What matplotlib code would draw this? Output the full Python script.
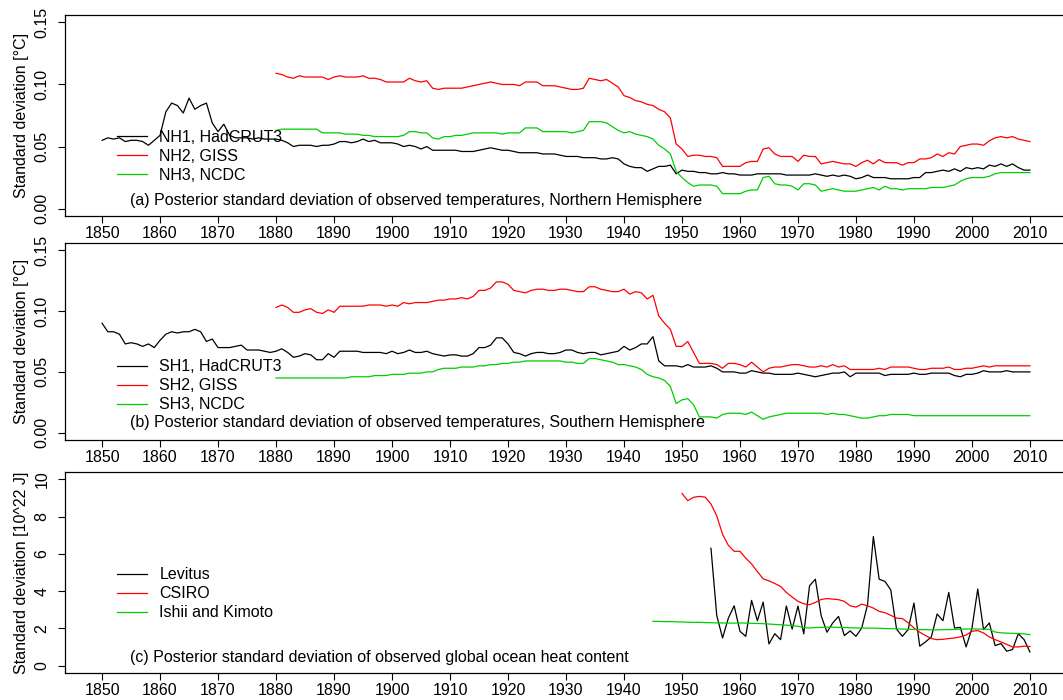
import matplotlib
matplotlib.use("Agg")
import matplotlib.pyplot as plt
import numpy as np

plt.rcParams['font.family'] = ['Liberation Sans', 'DejaVu Sans']
plt.rcParams['font.size'] = 11.5

# ---------------- data ----------------
# (a) northern hemisphere, posterior std of observed temperature
nh1_start, nh23_start = 1850, 1880
nh1_hadcrut3 = [
    0.055, 0.057, 0.056, 0.057, 0.054, 0.055, 0.055, 0.054, 0.051, 0.055,
    0.059, 0.078, 0.085, 0.083, 0.077, 0.089, 0.080, 0.083, 0.085, 0.069,
    0.062, 0.068, 0.059, 0.057, 0.057, 0.057, 0.056, 0.057, 0.056, 0.056,
    0.056, 0.055, 0.053, 0.050, 0.051, 0.051, 0.051, 0.050, 0.051, 0.051,
    0.052, 0.054, 0.054, 0.053, 0.054, 0.056, 0.054, 0.055, 0.053, 0.053,
    0.053, 0.052, 0.050, 0.051, 0.050, 0.048, 0.050, 0.047, 0.047, 0.047,
    0.047, 0.047, 0.046, 0.046, 0.046, 0.047, 0.048, 0.049, 0.048, 0.047,
    0.047, 0.046, 0.045, 0.045, 0.045, 0.045, 0.044, 0.044, 0.044, 0.043,
    0.042, 0.042, 0.042, 0.041, 0.041, 0.041, 0.040, 0.040, 0.041, 0.040,
    0.036, 0.034, 0.033, 0.033, 0.030, 0.032, 0.034, 0.034, 0.035, 0.028,
    0.031, 0.030, 0.030, 0.029, 0.029, 0.028, 0.028, 0.029, 0.028, 0.028,
    0.027, 0.027, 0.027, 0.028, 0.028, 0.028, 0.028, 0.028, 0.027, 0.027,
    0.027, 0.027, 0.027, 0.028, 0.027, 0.026, 0.027, 0.026, 0.027, 0.026,
    0.024, 0.025, 0.027, 0.025, 0.025, 0.025, 0.024, 0.024, 0.024, 0.024,
    0.025, 0.025, 0.029, 0.029, 0.030, 0.031, 0.030, 0.032, 0.030, 0.033,
    0.032, 0.033, 0.032, 0.035, 0.034, 0.036, 0.034, 0.036, 0.033, 0.031,
    0.031]
nh2_giss = [
    0.109, 0.108, 0.106, 0.105, 0.107, 0.106, 0.106, 0.106, 0.106, 0.104,
    0.106, 0.107, 0.106, 0.106, 0.106, 0.107, 0.105, 0.105, 0.104, 0.102,
    0.102, 0.102, 0.102, 0.105, 0.103, 0.102, 0.103, 0.097, 0.096, 0.097,
    0.097, 0.097, 0.097, 0.098, 0.099, 0.100, 0.101, 0.102, 0.101, 0.100,
    0.100, 0.100, 0.099, 0.102, 0.102, 0.102, 0.099, 0.099, 0.099, 0.098,
    0.097, 0.096, 0.096, 0.097, 0.105, 0.104, 0.103, 0.104, 0.101, 0.098,
    0.091, 0.0895, 0.087, 0.086, 0.084, 0.083, 0.080, 0.078, 0.073, 0.052,
    0.048, 0.042, 0.043, 0.043, 0.042, 0.042, 0.041, 0.034, 0.034, 0.034,
    0.034, 0.037, 0.038, 0.038, 0.048, 0.049, 0.044, 0.042, 0.042, 0.042,
    0.038, 0.043, 0.042, 0.042, 0.036, 0.037, 0.038, 0.037, 0.036, 0.036,
    0.034, 0.037, 0.039, 0.036, 0.0395, 0.037, 0.037, 0.037, 0.035, 0.037,
    0.037, 0.040, 0.040, 0.041, 0.044, 0.042, 0.045, 0.044, 0.050, 0.051,
    0.052, 0.052, 0.051, 0.0546, 0.057, 0.058, 0.057, 0.058, 0.056, 0.055,
    0.054]
nh3_ncdc = [
    0.063, 0.064, 0.064, 0.064, 0.064, 0.064, 0.064, 0.064, 0.061, 0.061,
    0.061, 0.061, 0.060, 0.060, 0.060, 0.059, 0.059, 0.058, 0.058, 0.058,
    0.058, 0.058, 0.059, 0.062, 0.062, 0.061, 0.061, 0.057, 0.056, 0.058,
    0.058, 0.059, 0.059, 0.060, 0.061, 0.061, 0.061, 0.061, 0.061, 0.060,
    0.061, 0.061, 0.061, 0.065, 0.065, 0.065, 0.062, 0.062, 0.062, 0.062,
    0.062, 0.061, 0.062, 0.063, 0.070, 0.070, 0.070, 0.069, 0.066, 0.063,
    0.061, 0.062, 0.060, 0.059, 0.058, 0.056, 0.051, 0.048, 0.044, 0.030,
    0.025, 0.021, 0.018, 0.019, 0.019, 0.019, 0.018, 0.012, 0.012, 0.012,
    0.012, 0.014, 0.015, 0.015, 0.025, 0.026, 0.020, 0.019, 0.019, 0.018,
    0.015, 0.020, 0.020, 0.019, 0.014, 0.015, 0.016, 0.015, 0.014, 0.014,
    0.014, 0.015, 0.016, 0.017, 0.015, 0.018, 0.016, 0.016, 0.015, 0.016,
    0.016, 0.016, 0.016, 0.017, 0.017, 0.017, 0.018, 0.019, 0.022, 0.024,
    0.025, 0.025, 0.025, 0.026, 0.028, 0.029, 0.029, 0.029, 0.029, 0.029,
    0.029]

# (b) southern hemisphere
sh1_hadcrut3 = [
    0.090, 0.083, 0.083, 0.081, 0.073, 0.074, 0.073, 0.071, 0.073, 0.070,
    0.076, 0.081, 0.083, 0.082, 0.083, 0.083, 0.085, 0.083, 0.075, 0.077,
    0.070, 0.070, 0.070, 0.071, 0.072, 0.068, 0.068, 0.068, 0.067, 0.066,
    0.067, 0.069, 0.066, 0.062, 0.063, 0.065, 0.064, 0.060, 0.060, 0.065,
    0.062, 0.067, 0.067, 0.067, 0.067, 0.066, 0.066, 0.066, 0.066, 0.065,
    0.067, 0.065, 0.066, 0.068, 0.066, 0.066, 0.067, 0.065, 0.064, 0.063,
    0.064, 0.064, 0.063, 0.063, 0.065, 0.070, 0.070, 0.072, 0.078, 0.078,
    0.073, 0.066, 0.065, 0.063, 0.065, 0.066, 0.066, 0.065, 0.065, 0.066,
    0.068, 0.068, 0.066, 0.065, 0.066, 0.066, 0.064, 0.065, 0.066, 0.067,
    0.071, 0.068, 0.070, 0.073, 0.073, 0.079, 0.059, 0.055, 0.055, 0.055,
    0.054, 0.056, 0.054, 0.054, 0.054, 0.055, 0.053, 0.050, 0.050, 0.050,
    0.049, 0.049, 0.051, 0.050, 0.049, 0.049, 0.048, 0.048, 0.048, 0.048,
    0.049, 0.048, 0.047, 0.046, 0.047, 0.048, 0.049, 0.049, 0.050, 0.046,
    0.049, 0.049, 0.049, 0.049, 0.049, 0.047, 0.048, 0.048, 0.048, 0.048,
    0.049, 0.048, 0.048, 0.049, 0.049, 0.049, 0.049, 0.047, 0.046, 0.048,
    0.048, 0.049, 0.051, 0.050, 0.050, 0.050, 0.051, 0.050, 0.050, 0.050,
    0.050]
sh2_giss = [
    0.103, 0.105, 0.103, 0.099, 0.099, 0.101, 0.102, 0.099, 0.098, 0.101,
    0.099, 0.104, 0.104, 0.104, 0.104, 0.104, 0.105, 0.105, 0.105, 0.104,
    0.105, 0.104, 0.107, 0.106, 0.107, 0.107, 0.107, 0.108, 0.109, 0.109,
    0.110, 0.110, 0.111, 0.110, 0.112, 0.117, 0.117, 0.119, 0.124, 0.124,
    0.122, 0.117, 0.116, 0.115, 0.117, 0.118, 0.118, 0.117, 0.117, 0.118,
    0.118, 0.117, 0.116, 0.116, 0.120, 0.120, 0.118, 0.117, 0.116, 0.116,
    0.118, 0.114, 0.116, 0.115, 0.110, 0.113, 0.096, 0.090, 0.085, 0.071,
    0.071, 0.075, 0.066, 0.057, 0.057, 0.057, 0.056, 0.053, 0.057, 0.057,
    0.056, 0.054, 0.058, 0.054, 0.050, 0.053, 0.054, 0.054, 0.055, 0.056,
    0.056, 0.055, 0.054, 0.054, 0.055, 0.054, 0.056, 0.054, 0.055, 0.052,
    0.052, 0.052, 0.052, 0.052, 0.053, 0.052, 0.054, 0.054, 0.054, 0.054,
    0.053, 0.052, 0.052, 0.053, 0.053, 0.053, 0.054, 0.052, 0.052, 0.053,
    0.053, 0.054, 0.055, 0.054, 0.055, 0.055, 0.055, 0.055, 0.055, 0.055,
    0.055]
sh3_ncdc = [
    0.045, 0.045, 0.045, 0.045, 0.045, 0.045, 0.045, 0.045, 0.045, 0.045,
    0.045, 0.045, 0.045, 0.046, 0.046, 0.046, 0.046, 0.047, 0.047, 0.047,
    0.048, 0.048, 0.048, 0.049, 0.049, 0.049, 0.050, 0.050, 0.052, 0.053,
    0.053, 0.053, 0.054, 0.054, 0.054, 0.055, 0.055, 0.056, 0.056, 0.057,
    0.057, 0.058, 0.058, 0.059, 0.059, 0.059, 0.059, 0.059, 0.059, 0.059,
    0.058, 0.058, 0.057, 0.057, 0.061, 0.061, 0.060, 0.059, 0.058, 0.056,
    0.056, 0.055, 0.054, 0.052, 0.048, 0.046, 0.045, 0.043, 0.038, 0.024,
    0.027, 0.028, 0.023, 0.013, 0.013, 0.013, 0.012, 0.015, 0.016, 0.016,
    0.016, 0.015, 0.017, 0.014, 0.011, 0.013, 0.014, 0.015, 0.016, 0.016,
    0.016, 0.016, 0.016, 0.016, 0.016, 0.015, 0.016, 0.015, 0.015, 0.014,
    0.013, 0.012, 0.012, 0.013, 0.014, 0.014, 0.015, 0.015, 0.015, 0.015,
    0.014, 0.014, 0.014, 0.014, 0.014, 0.014, 0.014, 0.014, 0.014, 0.014,
    0.014, 0.014, 0.014, 0.014, 0.014, 0.014, 0.014, 0.014, 0.014, 0.014,
    0.014]

# (c) global ocean heat content, 10^22 J
levitus_start, csiro_start, ishii_start = 1955, 1950, 1945
levitus = [
    6.30, 2.68, 1.48, 2.55, 3.21, 1.84, 1.57, 3.50, 2.41, 3.41,
    1.16, 1.71, 1.39, 3.20, 1.96, 3.20, 1.70, 4.29, 4.64, 2.68,
    1.79, 2.29, 2.64, 1.61, 1.86, 1.57, 2.02, 3.27, 6.93, 4.64,
    4.52, 4.07, 1.96, 1.57, 1.93, 3.36, 1.04, 1.27, 1.54, 2.77,
    2.41, 3.93, 2.02, 2.05, 1.00, 2.00, 4.11, 1.93, 2.29, 1.07,
    1.18, 0.77, 0.86, 1.71, 1.39, 0.73]
csiro = [
    9.25, 8.86, 9.04, 9.09, 9.05, 8.68, 8.04, 7.05, 6.46, 6.14,
    6.14, 5.77, 5.46, 5.05, 4.66, 4.55, 4.41, 4.25, 3.93, 3.68,
    3.45, 3.32, 3.27, 3.39, 3.55, 3.60, 3.57, 3.54, 3.45, 3.21,
    3.14, 3.30, 3.21, 3.09, 2.91, 2.84, 2.70, 2.55, 2.52, 2.30,
    2.02, 1.79, 1.61, 1.45, 1.39, 1.41, 1.45, 1.48, 1.54, 1.64,
    1.84, 1.88, 1.75, 1.54, 1.39, 1.27, 1.14, 1.00, 1.00, 1.04,
    1.02]
ishii_kimoto = [
    2.38, 2.37, 2.36, 2.36, 2.35, 2.34, 2.33, 2.32, 2.32, 2.31,
    2.30, 2.29, 2.29, 2.28, 2.28, 2.29, 2.28, 2.27, 2.26, 2.25,
    2.23, 2.21, 2.19, 2.17, 2.14, 2.11, 2.04, 2.02, 2.04, 2.05,
    2.06, 2.06, 2.05, 2.04, 2.03, 2.02, 2.02, 2.01, 2.01, 2.00,
    1.99, 1.98, 1.97, 1.96, 1.95, 1.94, 1.93, 1.93, 1.92, 1.92,
    1.93, 1.93, 1.94, 1.95, 1.96, 1.97, 1.96, 1.95, 1.94, 1.80,
    1.76, 1.74, 1.73, 1.72, 1.70, 1.66]

x_ticks = list(range(1850, 2011, 10))
temp_ticks = [0.00, 0.05, 0.10, 0.15]
ohc_ticks = [0, 2, 4, 6, 8, 10]

COLORS = [black, red, green] = ['#000000', '#FF0000', '#00CD00']


def years(start, values):
    return np.arange(start, start + len(values))


def style_axes(ax, yticks, ylim, yfmt):
    ax.set_xlim(1843.6, 2016.4)
    ax.set_ylim(*ylim)
    ax.set_xticks(x_ticks)
    ax.set_yticks(yticks)
    ax.set_yticklabels([yfmt % v for v in yticks], rotation=90, va='center')
    ax.tick_params(axis='x', direction='out', length=5, width=0.8, pad=2)
    ax.tick_params(axis='y', direction='out', length=5, width=0.8, pad=6)
    for s in ax.spines.values():
        s.set_linewidth(0.9)
    ax.yaxis.set_label_coords(-0.036, 0.5)


def add_legend(ax, labels, top):
    ax.legend(labels, loc='upper left', bbox_to_anchor=(0.052, top), frameon=False,
              borderpad=0, borderaxespad=0, handlelength=1.85, handletextpad=0.8,
              labelspacing=0.25)


fig = plt.figure(figsize=(10.63, 7.0), dpi=100)
L, W = 0.0611, 0.9427
ax_a = fig.add_axes([L, 0.6914, W, 0.2872])
ax_b = fig.add_axes([L, 0.3714, W, 0.2815])
ax_c = fig.add_axes([L, 0.0386, W, 0.2871])

lw = 0.9
# ---- (a) ----
ax_a.plot(years(nh1_start, nh1_hadcrut3), nh1_hadcrut3, color=black, lw=lw)
ax_a.plot(years(nh23_start, nh2_giss), nh2_giss, color=red, lw=lw)
ax_a.plot(years(nh23_start, nh3_ncdc), nh3_ncdc, color=green, lw=lw)
style_axes(ax_a, temp_ticks, (-0.006, 0.156), '%.2f')
ax_a.set_ylabel('Standard deviation [°C]')
add_legend(ax_a, ['NH1, HadCRUT3', 'NH2, GISS', 'NH3, NCDC'], 0.43)
ax_a.text(1854.9, 0.0067, '(a) Posterior standard deviation of observed temperatures, Northern Hemisphere',
          va='center', ha='left')

# ---- (b) ----
ax_b.plot(years(nh1_start, sh1_hadcrut3), sh1_hadcrut3, color=black, lw=lw)
ax_b.plot(years(nh23_start, sh2_giss), sh2_giss, color=red, lw=lw)
ax_b.plot(years(nh23_start, sh3_ncdc), sh3_ncdc, color=green, lw=lw)
style_axes(ax_b, temp_ticks, (-0.006, 0.156), '%.2f')
ax_b.set_ylabel('Standard deviation [°C]')
add_legend(ax_b, ['SH1, HadCRUT3', 'SH2, GISS', 'SH3, NCDC'], 0.41)
ax_b.text(1854.9, 0.0083, '(b) Posterior standard deviation of observed temperatures, Southern Hemisphere',
          va='center', ha='left')

# ---- (c) ----
ax_c.plot(years(levitus_start, levitus), levitus, color=black, lw=lw)
ax_c.plot(years(csiro_start, csiro), csiro, color=red, lw=lw)
ax_c.plot(years(ishii_start, ishii_kimoto), ishii_kimoto, color=green, lw=lw)
style_axes(ax_c, ohc_ticks, (-0.4, 10.4), '%d')
ax_c.set_ylabel('Standard deviation [10^22 J]')
add_legend(ax_c, ['Levitus', 'CSIRO', 'Ishii and Kimoto'], 0.525)
ax_c.text(1854.9, 0.43, '(c) Posterior standard deviation of observed global ocean heat content',
          va='center', ha='left')

fig.savefig('out.png', dpi=100)
